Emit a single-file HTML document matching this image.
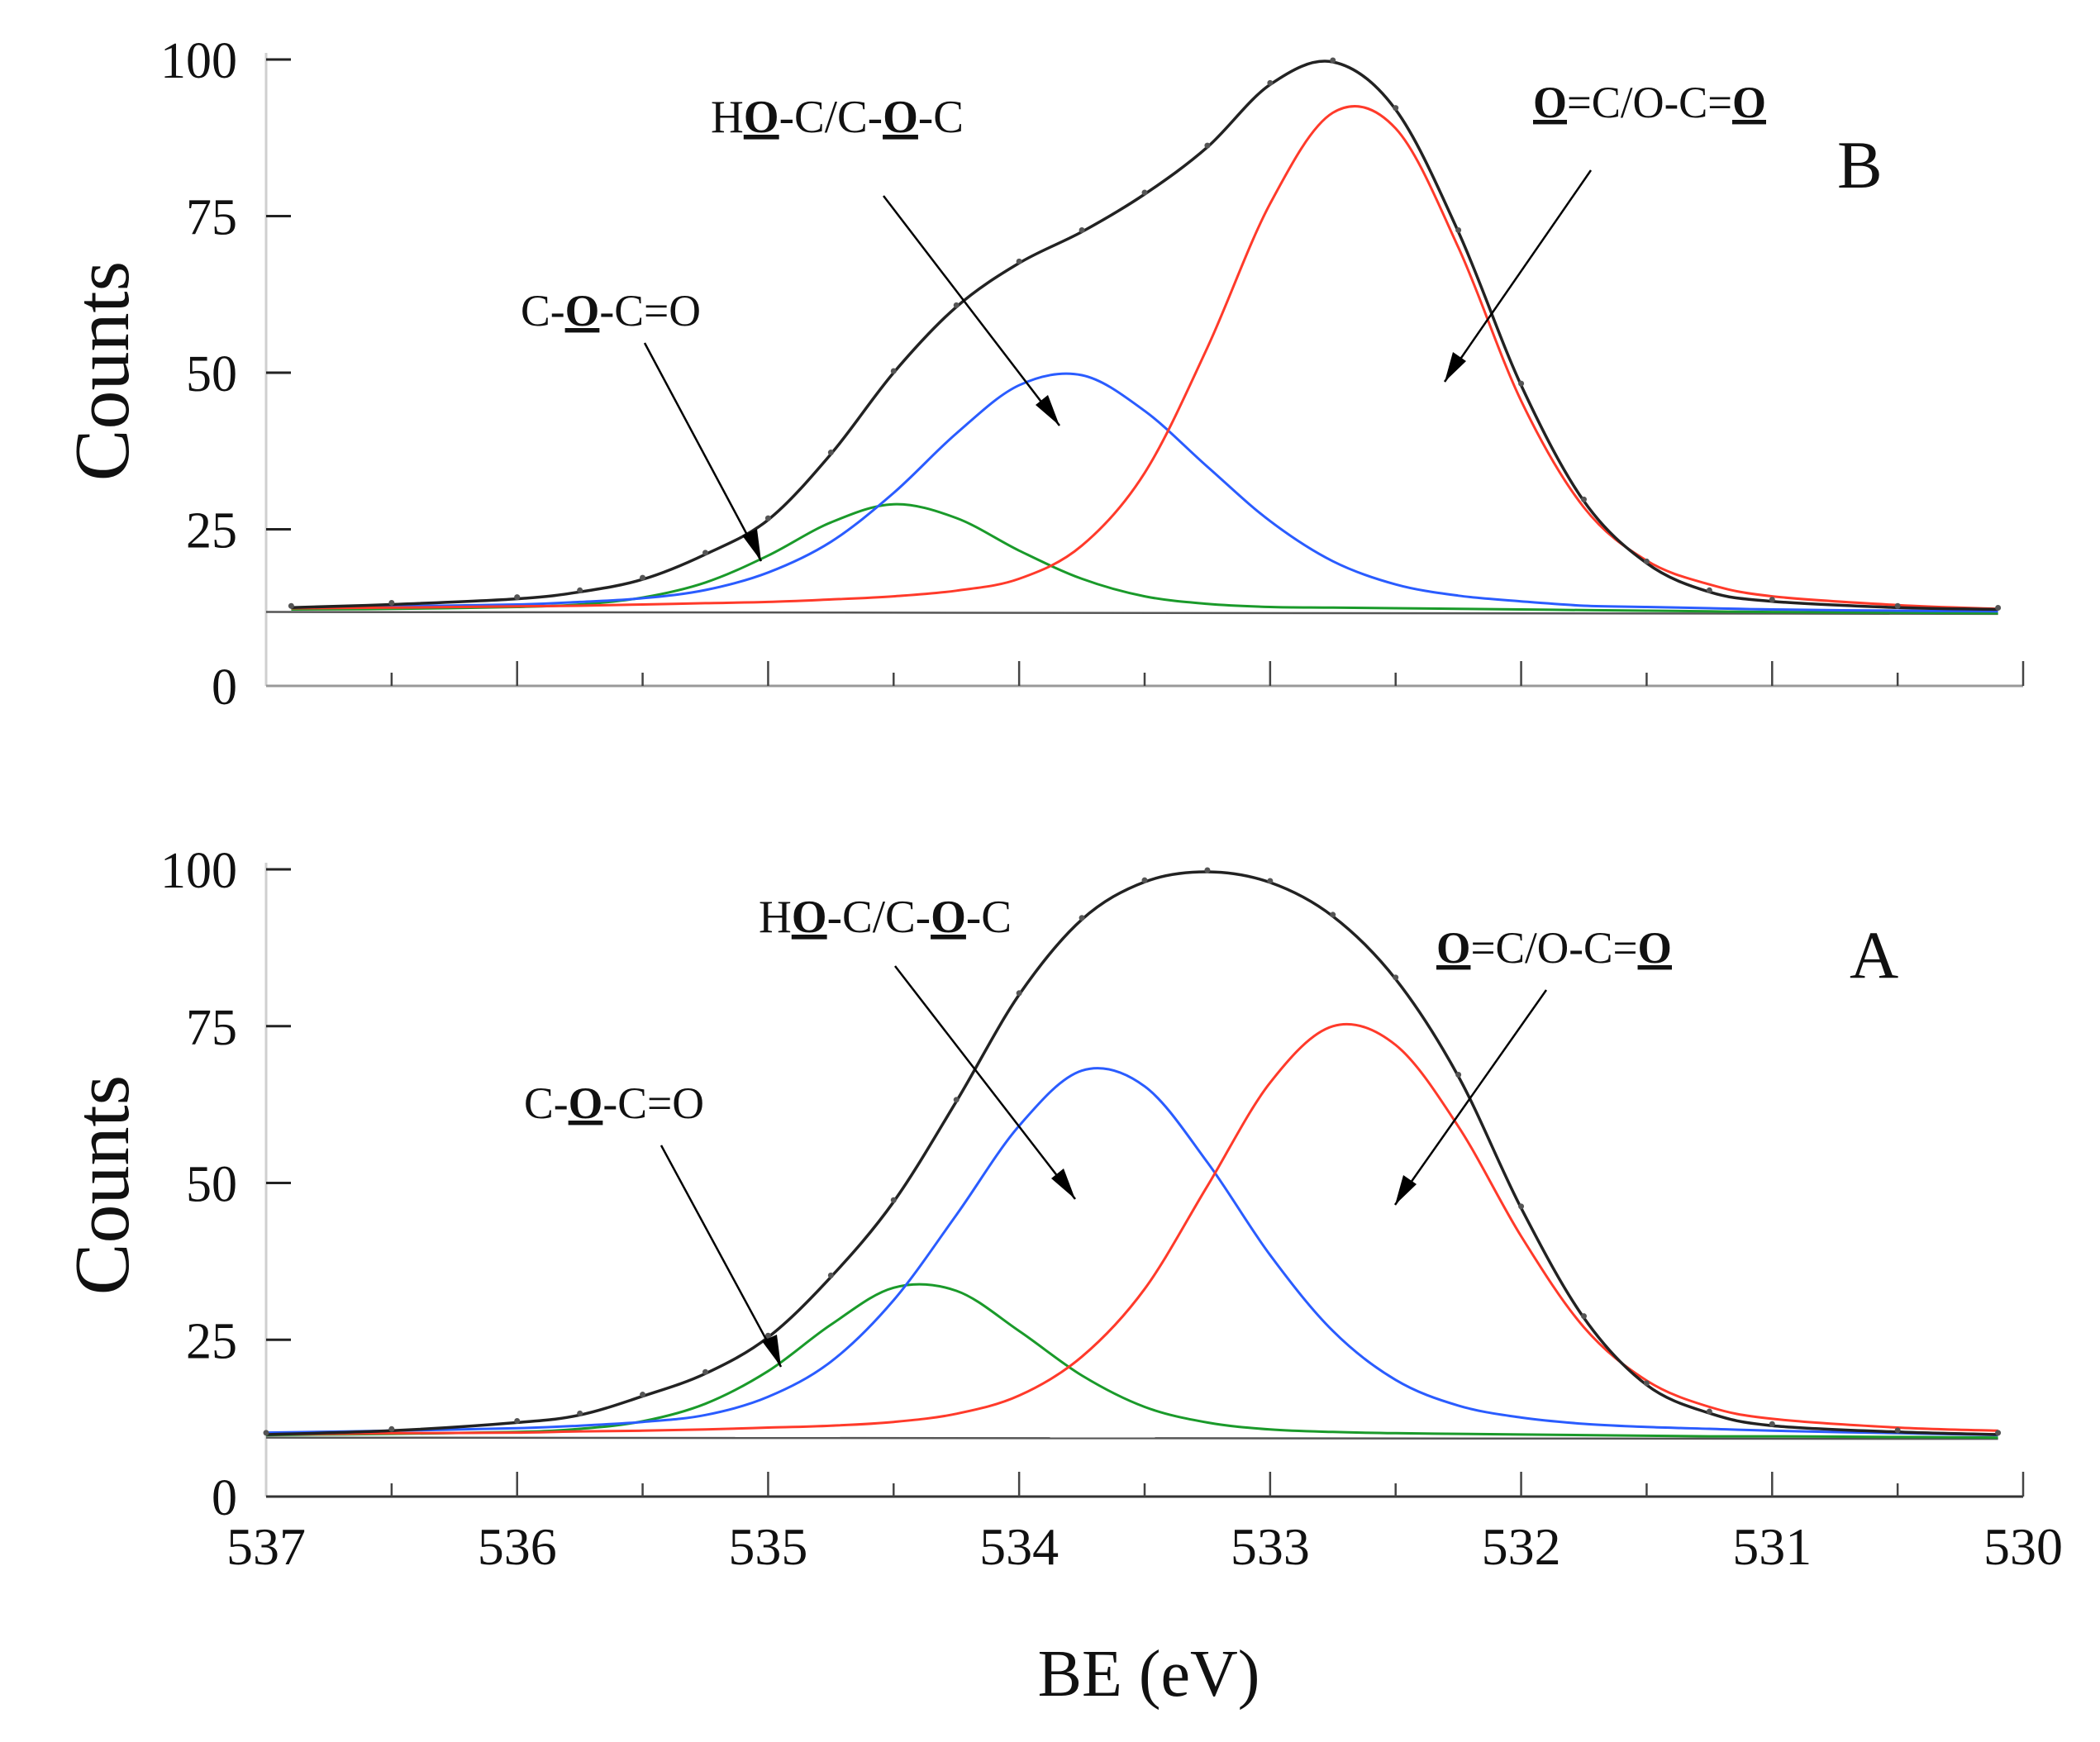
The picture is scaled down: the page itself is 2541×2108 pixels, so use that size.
<!DOCTYPE html>
<html><head><meta charset="utf-8"><style>
html,body{margin:0;padding:0;background:#fff;}
svg{display:block;font-family:"Liberation Serif",serif;}
</style></head><body>
<svg id="chart" width="2541" height="2108" viewBox="0 0 2541 2108" xmlns="http://www.w3.org/2000/svg">
<g id="axes"></g><g id="series"></g><g id="annot"></g>
</svg>
<script>
// ---- data ----
const energiesB = [536.9,536.5,536,535.75,535.5,535.25,535,534.75,534.5,534.25,534,533.75,533.5,533.25,533,532.75,532.5,532.25,532,531.75,531.5,531.25,531,530.5,530.1];
const greenB = [12.2,12.3,12.6,13.0,14.1,16.5,20.8,26.1,29.0,26.8,21.6,17.1,14.3,13.1,12.6,12.5,12.4,12.3,12.2,12.1,12.0,11.9,11.8,11.7,11.6];
const blueB  = [12.5,12.7,13.0,13.4,14.0,15.3,18.1,23.0,30.8,40.3,48.0,49.6,43.9,35.0,26.3,19.9,16.2,14.4,13.5,12.8,12.6,12.4,12.2,12.0,11.9];
const redB   = [12.4,12.5,12.7,12.8,13.0,13.2,13.4,13.8,14.3,15.2,17.1,22.4,34.0,54.0,77.0,91.5,89.0,70.0,45.5,28.5,20.0,16.2,14.3,12.9,12.3];
const envB   = [12.5,13.0,13.9,15.0,17.0,21.0,26.5,37.0,50.0,60.5,67.5,72.5,78.5,86.0,96.0,99.6,92.0,72.5,48.0,29.5,19.6,15.0,13.5,12.5,12.2];
const baseB  = [11.8,11.5];
const energiesA = [537,536.5,536,535.75,535.5,535.25,535,534.75,534.5,534.25,534,533.75,533.5,533.25,533,532.75,532.5,532.25,532,531.75,531.5,531.25,531,530.5,530.1];
const greenA = [9.8,10.0,10.3,10.8,12.0,14.8,20.0,27.4,33.3,32.8,26.4,19.3,14.3,11.8,10.7,10.3,10.1,10.0,9.9,9.8,9.7,9.6,9.6,9.5,9.4];
const blueA  = [10.2,10.5,10.9,11.3,11.9,13.0,15.9,21.5,31.3,44.9,59.1,67.9,65.4,53.3,38.5,26.4,18.6,14.5,12.6,11.6,11.1,10.8,10.5,10.1,9.8];
const redA   = [9.9,10.1,10.2,10.4,10.5,10.7,11.0,11.3,11.9,13.2,16.1,22.3,33.1,49.5,66.0,75.0,72.0,59.0,41.5,27.0,18.5,14.3,12.4,11.0,10.5];
const envA   = [9.9,10.5,11.8,13.0,16.0,19.6,25.4,35.0,47.0,63.0,80.0,92.0,98.0,99.6,97.9,92.5,82.5,67.0,46.0,28.5,17.8,13.3,11.3,10.3,9.9];
const baseA  = [9.4,9.2];
const xTicks = [537,536,535,534,533,532,531,530];
const yTicks = [0,25,50,75,100];

// ---- scales ----
const X0=322, X1=2448;
function xs(e){return X0+(537-e)*(X1-X0)/7;}
const panels={B:{y0:830,y100:72},A:{y0:1811,y100:1052}};
function ysF(p){return v=>p.y0-(p.y0-p.y100)*v/100;}
const NS='http://www.w3.org/2000/svg';
function mk(tag,attrs,parent){const el=document.createElementNS(NS,tag);for(const k in attrs)el.setAttribute(k,attrs[k]);parent.appendChild(el);return el;}
function smooth(pts){let d='M'+pts[0][0].toFixed(1)+','+pts[0][1].toFixed(1);
 for(let i=0;i<pts.length-1;i++){const p0=pts[i-1]||pts[i],p1=pts[i],p2=pts[i+1],p3=pts[i+2]||p2;
  const c1=[p1[0]+(p2[0]-p0[0])/6,p1[1]+(p2[1]-p0[1])/6],c2=[p2[0]-(p3[0]-p1[0])/6,p2[1]-(p3[1]-p1[1])/6];
  d+=' C'+c1[0].toFixed(1)+','+c1[1].toFixed(1)+' '+c2[0].toFixed(1)+','+c2[1].toFixed(1)+' '+p2[0].toFixed(1)+','+p2[1].toFixed(1);}
 return d;}
const axes=document.getElementById('axes'),series=document.getElementById('series');

function drawPanel(key,energies,green,blue,red,env,base){
 const p=panels[key],ys=ysF(p);
 const g=mk('g',{},axes);
 
 
 const ya=mk('line',{x1:X0,y1:p.y0,x2:X0,y2:p.y100-8,stroke:'#cfcfcf','stroke-width':3},g);
 
 
 const xa=mk('line',{x1:X0,y1:p.y0,x2:X1,y2:p.y0,stroke:key==='A'?'#333':'#999','stroke-width':3},g);
 
 
 for(let e=537;e>=530;e-=0.5){
  const major=Math.abs(e-Math.round(e))<0.01;
  if(e===537)continue;
  const t=mk('line',{x1:xs(e),y1:p.y0,x2:xs(e),y2:p.y0-(major?30:16),stroke:'#444','stroke-width':2.5},g);
  
  
 }
 yTicks.forEach(v=>{
  const t=mk('line',{x1:X0,y1:ys(v),x2:X0+30,y2:ys(v),stroke:v===0?'none':'#222','stroke-width':3},g);
  
  
  const tx=mk('text',{x:287,y:ys(v)+22,'text-anchor':'end','font-size':62,fill:'#111'},g);
  tx.textContent=v;
  
  
 });
 const bl=mk('line',{x1:xs(537),y1:ys(base[0]),x2:xs(530.1),y2:ys(base[1]),stroke:'#555','stroke-width':2.5},series);
 
 
 const defs=[['green',green,'#1a9a2a'],['blue',blue,'#2a5cff'],['red',red,'#ff3a2a'],['envelope',env,'#222']];
 defs.forEach(([nm,arr,col])=>{
  const pts=energies.map((e,i)=>[xs(e),ys(arr[i])]);
  const path=mk('path',{d:smooth(pts),fill:'none',stroke:col,'stroke-width':nm==='envelope'?3.5:3},series);
  
  
 });
 energies.forEach((e,i)=>{
  const c=mk('circle',{cx:xs(e),cy:ys(env[i])-2,r:3.5,fill:'#555'},series);
  
  
 });
}
drawPanel('B',energiesB,greenB,blueB,redB,envB,baseB);
drawPanel('A',energiesA,greenA,blueA,redA,envA,baseA);
xTicks.forEach(e=>{
 const t=mk('text',{x:xs(e),y:1893,'text-anchor':'middle','font-size':64,fill:'#111'},axes);
 t.textContent=e;
 
 
});
</script>
<svg style="position:absolute;left:0;top:0" width="2541" height="2108">
<g font-family="Liberation Serif, serif" fill="#111">
<text transform="translate(155,449) rotate(-90)" text-anchor="middle" font-size="94">Counts</text>
<text transform="translate(155,1434) rotate(-90)" text-anchor="middle" font-size="94">Counts</text>
<text x="1390" y="2052" text-anchor="middle" font-size="80">BE (eV)</text>
<text x="2223" y="227" font-size="82">B</text>
<text x="2238" y="1183" font-size="82">A</text>
<text x="860" y="160" font-size="56" textLength="306" lengthAdjust="spacingAndGlyphs">H<tspan text-decoration="underline" font-weight="bold">O</tspan>-C/C-<tspan text-decoration="underline" font-weight="bold">O</tspan>-C</text>
<text x="630" y="394" font-size="54" textLength="218" lengthAdjust="spacingAndGlyphs">C-<tspan text-decoration="underline" font-weight="bold">O</tspan>-C=O</text>
<text x="1855" y="142" font-size="54" textLength="282" lengthAdjust="spacingAndGlyphs"><tspan text-decoration="underline" font-weight="bold">O</tspan>=C/O-C=<tspan text-decoration="underline" font-weight="bold">O</tspan></text>
<text x="918" y="1128" font-size="56" textLength="306" lengthAdjust="spacingAndGlyphs">H<tspan text-decoration="underline" font-weight="bold">O</tspan>-C/C-<tspan text-decoration="underline" font-weight="bold">O</tspan>-C</text>
<text x="634" y="1353" font-size="54" textLength="218" lengthAdjust="spacingAndGlyphs">C-<tspan text-decoration="underline" font-weight="bold">O</tspan>-C=O</text>
<text x="1738" y="1165" font-size="54" textLength="285" lengthAdjust="spacingAndGlyphs"><tspan text-decoration="underline" font-weight="bold">O</tspan>=C/O-C=<tspan text-decoration="underline" font-weight="bold">O</tspan></text>
</g>
<g stroke="#000" stroke-width="2.5" fill="none">
<line x1="780" y1="415" x2="921" y2="679"/>
<line x1="1069" y1="237" x2="1282" y2="515"/>
<line x1="1925" y1="206" x2="1748" y2="462"/>
<line x1="800" y1="1386" x2="945" y2="1654"/>
<line x1="1083" y1="1169" x2="1301" y2="1451"/>
<line x1="1871" y1="1198" x2="1688" y2="1458"/>
</g>
<g fill="#000">
<polygon points="921,679 898,648 916,640"/>
<polygon points="1282,515 1253,490 1268,478"/>
<polygon points="1748,462 1758,426 1774,437"/>
<polygon points="945,1654 922,1623 940,1615"/>
<polygon points="1301,1451 1272,1426 1287,1414"/>
<polygon points="1688,1458 1698,1422 1714,1433"/>
</g>
</svg>
</body></html>
